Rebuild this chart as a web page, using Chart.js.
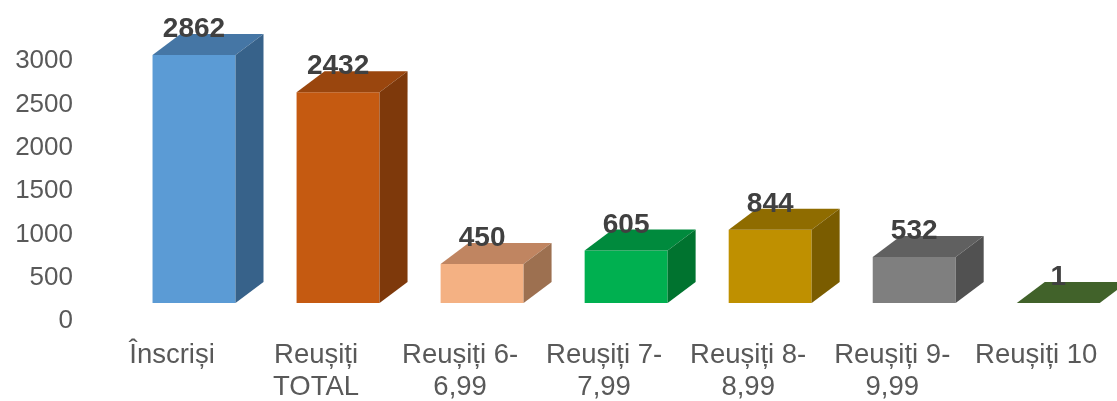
<!DOCTYPE html>
<html>
<head>
<meta charset="utf-8">
<script src="https://cdn.jsdelivr.net/npm/chart.js@4/dist/chart.umd.min.js"></script>
<style>
  html, body { margin: 0; padding: 0; background: #fff; }
  #wrap { width: 1117px; height: 401px; }
</style>
</head>
<body>
<div id="wrap"><canvas id="chart"></canvas></div>
<script>
// data
const categories = [
  ["Înscriși"],
  ["Reușiți", "TOTAL"],
  ["Reușiți 6-", "6,99"],
  ["Reușiți 7-", "7,99"],
  ["Reușiți 8-", "8,99"],
  ["Reușiți 9-", "9,99"],
  ["Reușiți 10"]
];
const values = [2862, 2432, 450, 605, 844, 532, 1];
const yTicks = [0, 500, 1000, 1500, 2000, 2500, 3000];

// face colours: front / top / side
const frontColors = ["#5B9BD5", "#C55A11", "#F4B183", "#00B050", "#BF9000", "#7F7F7F", "#548235"];
const topColors   = ["#4576A5", "#9A460E", "#C08561", "#008A3D", "#8F6C00", "#606060", "#41622A"];
const sideColors  = ["#37628A", "#7E390B", "#9D7050", "#00732F", "#7A5C00", "#515151", "#35501F"];

const FONT = "'Liberation Sans', Arial, sans-serif";
const DEPTH_X = 28, DEPTH_Y = -21;   // 3d depth of the boxes
const SHIFT_X = 22, SHIFT_Y = -18;   // front plane offset vs. axis plane

/* ================= 3D BOX FACES ================= */
const bars3d = {
  id: "bars3d",
  beforeDatasetsDraw(chart) {
    chart.ctx.save();
    chart.ctx.translate(SHIFT_X, SHIFT_Y);
  },
  afterDatasetsDraw(chart) {
    const ctx = chart.ctx;
    const meta = chart.getDatasetMeta(0);
    meta.data.forEach((bar, i) => {
      const { x, y, base, width } = bar.getProps(["x", "y", "base", "width"], true);
      const l = x - width / 2, r = x + width / 2;

      ctx.fillStyle = topColors[i];
      ctx.beginPath();
      ctx.moveTo(l, y);
      ctx.lineTo(r, y);
      ctx.lineTo(r + DEPTH_X, y + DEPTH_Y);
      ctx.lineTo(l + DEPTH_X, y + DEPTH_Y);
      ctx.closePath();
      ctx.fill();

      ctx.fillStyle = sideColors[i];
      ctx.beginPath();
      ctx.moveTo(r, y);
      ctx.lineTo(r + DEPTH_X, y + DEPTH_Y);
      ctx.lineTo(r + DEPTH_X, base + DEPTH_Y);
      ctx.lineTo(r, base);
      ctx.closePath();
      ctx.fill();

      ctx.fillStyle = "#404040";
      ctx.font = "bold 28px " + FONT;
      ctx.textAlign = "center";
      ctx.textBaseline = "alphabetic";
      ctx.fillText(String(values[i]), x, y - 18);
    });
    ctx.restore();
  }
};

new Chart(document.getElementById("chart"), {
  type: "bar",
  data: {
    labels: categories,
    datasets: [{
      data: values,
      backgroundColor: frontColors,
      borderWidth: 0,
      categoryPercentage: 1,
      barPercentage: 0.576,
      clip: false
    }]
  },
  options: {
    responsive: true,
    maintainAspectRatio: false,
    animation: false,
    layout: { padding: { top: 61, right: 8.5, left: 0, bottom: 0 } },
    plugins: {
      legend: { display: false },
      tooltip: { enabled: false }
    },
    scales: {
      x: {
        grid: { display: false, drawTicks: false },
        border: { display: false },
        ticks: {
          color: "#595959",
          font: { family: FONT, size: 27.5, lineHeight: 1.15 },
          padding: 19,
          maxRotation: 0,
          autoSkip: false
        },
        afterFit(scale) { scale.height = 80; }
      },
      y: {
        min: 0,
        max: 3000,
        afterBuildTicks(scale) { scale.ticks = yTicks.map(v => ({ value: v })); },
        grid: { display: false, drawTicks: false },
        border: { display: false },
        ticks: {
          color: "#595959",
          font: { family: FONT, size: 26 },
          padding: 27,
          callback: v => String(v)
        },
        afterFit(scale) { scale.width = 100; }
      }
    }
  },
  plugins: [bars3d]
});
</script>
</body>
</html>
